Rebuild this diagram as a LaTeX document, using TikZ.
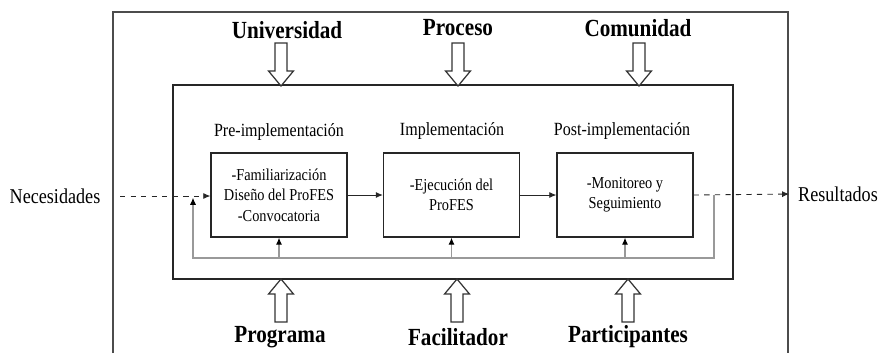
\documentclass[tikz,border=0pt]{standalone}
\usepackage{fontspec}
\setmainfont{Liberation Serif}[FakeStretch=0.86]
\usepackage{tikz}
\usetikzlibrary{arrows.meta}
\newcommand{\bigarrow}[3]{%
  \draw[blockarrow] ({#1-6},#2) -- ({#1+6},#2) -- ({#1+6},{#3+0.35*(#2-#3)})
    -- ({#1+12.5},{#3+0.35*(#2-#3)}) -- (#1,#3) -- ({#1-12.5},{#3+0.35*(#2-#3)})
    -- ({#1-6},{#3+0.35*(#2-#3)}) -- cycle;}

\begin{document}
\begin{tikzpicture}[x=0.02cm,y=-0.02cm]
        %
        % `title' is used for the bold labels round the frame.
        % `stage' is used for the three boxes, `phase' for the text above them.
        % `feedback' is used for the grey return line.
        \tikzstyle{title} = [font=\fontsize{14}{16}\selectfont\bfseries,inner sep=1pt]
        \tikzstyle{side} = [font=\fontsize{12}{14}\selectfont,inner sep=2pt]
        \tikzstyle{phase} = [font=\fontsize{10.6}{13}\selectfont,inner sep=1pt]
        \tikzstyle{stage} = [draw=black!85,line width=0.8pt,minimum width=2.72cm,minimum height=1.68cm,
          align=center,font=\fontsize{9.5}{11.6}\selectfont,inner sep=1pt]
        \tikzstyle{blockarrow} = [draw=black!80,fill=white,line width=0.7pt,line join=miter]
        \tikzstyle{flow} = [draw=black!85,line width=0.5pt,-{Latex[length=4pt,width=3.5pt]}]
        \tikzstyle{feedback} = [draw=black!40,line width=0.6pt,-{Latex[length=4pt,width=3.5pt,color=black]}]
        %
        \useasboundingbox (0,0) rectangle (878,353);
        %
        % Outer frame
        \draw[draw=black!70,line width=0.7pt] (113,353) -- (113,12) -- (788,12) -- (788,353);
        %
        % Inner frame
        \node[draw=black!85,line width=0.9pt,minimum width=11.2cm,minimum height=3.88cm] (inner) at (453,182) {};
        %
        % Labels above
        \node[title] (univ) at (287,30) {Universidad};
        \node[title] (proc) at (458,28) {Proceso};
        \node[title] (comu) at (638,28) {Comunidad};
        \bigarrow{281}{43}{86}
        \bigarrow{458}{43}{86}
        \bigarrow{639}{43}{86}
        %
        % Labels below
        \node[title] (prog) at (280,337) {Programa};
        \node[title] (faci) at (458,337) {Facilitador};
        \node[title] (part) at (628,337) {Participantes};
        \bigarrow{281}{322}{279}
        \bigarrow{457}{322}{279}
        \bigarrow{628}{322}{279}
        %
        % Stages
        \node[phase] (ph1) at (279,132) {Pre-implementación};
        \node[phase] (ph2) at (452,131) {Implementación};
        \node[phase] (ph3) at (622,131) {Post-implementación};
        \node[stage] (box1) at (279,195) {-Familiarización\\Diseño del ProFES\\-Convocatoria};
        \node[stage] (box2) at (451.5,195) {-Ejecución del\\ProFES};
        \node[stage] (box3) at (625,195) {-Monitoreo y\\Seguimiento};
        %
        % Input and output
        \node[side] (need) at (55,196) {Necesidades};
        \node[side] (res) at (838,194) {Resultados};
        \coordinate (nin) at (120,196);
        \coordinate (tap) at (714,195);
        \coordinate (loop) at (193,258);
        \draw[flow,dashed] (nin) -- (nin -| box1.west);
        \draw[flow] (box1.east) -- (box2.west);
        \draw[flow] (box2.east) -- (box3.west);
        \draw[flow,dashed,shorten >=3pt] (box3.east) -- (res.west);
        %
        % Feedback
        \draw[feedback] (tap) |- (loop) -- ([yshift=-1pt]loop |- nin);
        \draw[feedback] (box1.south |- loop) -- (box1.south);
        \draw[feedback] (box2.south |- loop) -- (box2.south);
        \draw[feedback] (box3.south |- loop) -- (box3.south);
        %
        \end{tikzpicture}
\end{document}
